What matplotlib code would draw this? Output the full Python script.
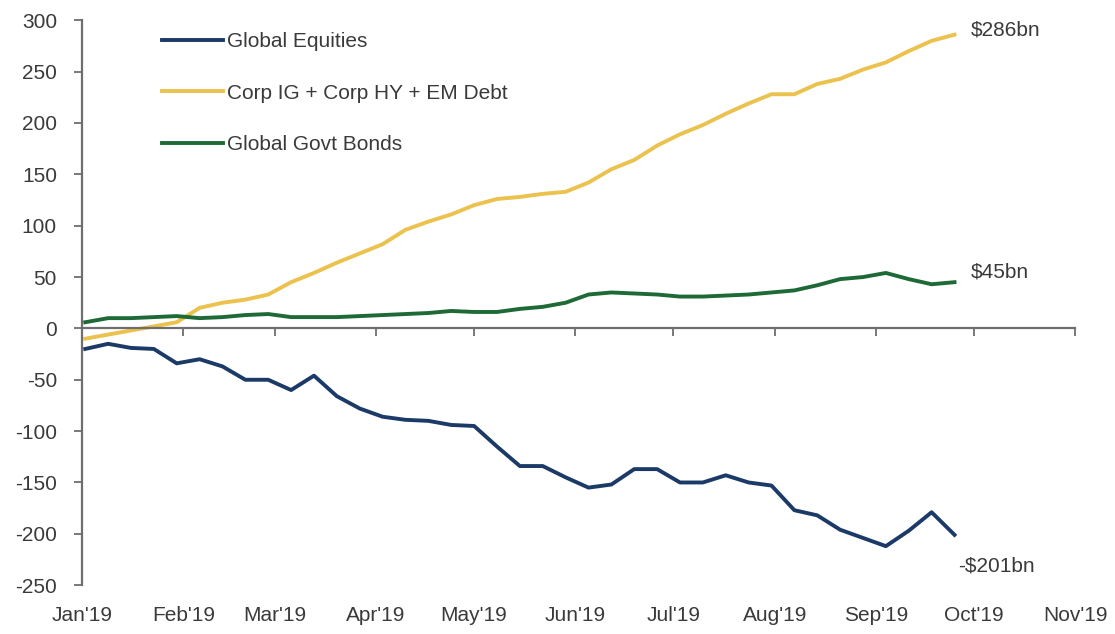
import numpy as np
import pandas as pd
import matplotlib
matplotlib.use("Agg")
import matplotlib.pyplot as plt

# weekly cumulative flows, $bn
dates = pd.date_range("2019-01-02", periods=39, freq="7D")

equities = [-20, -15, -19, -20, -34, -30, -37, -50, -50, -60,
            -46, -66, -78, -86, -89, -90, -94, -95, -115, -134,
            -134, -145, -155, -152, -137, -137, -150, -150, -143, -150,
            -153, -177, -182, -196, -204, -212, -197, -179, -201]

credit = [-10, -6, -2, 2, 6, 20, 25, 28, 33, 45,
          54, 64, 73, 82, 96, 104, 111, 120, 126, 128,
          131, 133, 142, 155, 164, 178, 189, 198, 209, 219,
          228, 228, 238, 243, 252, 259, 270, 280, 286]

govt = [6, 10, 10, 11, 12, 10, 11, 13, 14, 11,
        11, 11, 12, 13, 14, 15, 17, 16, 16, 19,
        21, 25, 33, 35, 34, 33, 31, 31, 32, 33,
        35, 37, 42, 48, 50, 54, 48, 43, 45]

month_ticks = pd.date_range("2019-01-01", "2019-11-01", freq="MS")
month_labels = ["Jan'19", "Feb'19", "Mar'19", "Apr'19", "May'19", "Jun'19",
                "Jul'19", "Aug'19", "Sep'19", "Oct'19", "Nov'19"]

plt.rcParams['font.family'] = ['Liberation Sans', 'DejaVu Sans']
plt.rcParams['axes.unicode_minus'] = False
txt = '#3a3a3a'

fig = plt.figure(figsize=(11.15, 6.34), dpi=100)
ax = fig.add_axes([0.0735, 0.077, 0.891, 0.891])

ax.plot(dates, equities, color='#1B3A68', lw=2.8, label='Global Equities')
ax.plot(dates, credit, color='#EBC24E', lw=2.8, label='Corp IG + Corp HY + EM Debt')
ax.plot(dates, govt, color='#1E6A36', lw=2.8, label='Global Govt Bonds')

ax.set_ylim(-250, 300)
ax.set_xlim(month_ticks[0], month_ticks[-1])
ax.set_yticks(np.arange(-250, 301, 50))

# x axis sits on the zero line, labels go under the plot
ax.spines['bottom'].set_position(('data', 0))
ax.spines['top'].set_visible(False)
ax.spines['right'].set_visible(False)
for s in ['left', 'bottom']:
    ax.spines[s].set_color('#6e6e6e')
    ax.spines[s].set_linewidth(1.6)
ax.set_xticks(month_ticks)
ax.set_xticklabels([])
ax.tick_params(axis='x', direction='out', length=6, width=1.3, color='#6e6e6e')
ax.tick_params(axis='y', direction='out', length=6, width=1.3, color='#6e6e6e',
               labelsize=15, labelcolor=txt, pad=12)
for d, lab in zip(month_ticks, month_labels):
    ax.text(d, -0.053, lab, transform=ax.get_xaxis_transform(), ha='center',
            va='center', fontsize=15, color=txt)

ax.text(dates[-1] + pd.Timedelta(days=5), 291, '\\$286bn', fontsize=15, color=txt, va='center')
ax.text(dates[-1] + pd.Timedelta(days=5), 55, '\\$45bn', fontsize=15, color=txt, va='center')
ax.text(dates[-1] + pd.Timedelta(days=1), -231, '-\\$201bn', fontsize=15, color=txt, va='center')

leg = ax.legend(loc='upper left', bbox_to_anchor=(0.062, 1.012), frameon=False,
                fontsize=15, handlelength=2.9, handletextpad=0.2, labelspacing=1.55,
                labelcolor=txt)

fig.savefig('out.png', dpi=100)
